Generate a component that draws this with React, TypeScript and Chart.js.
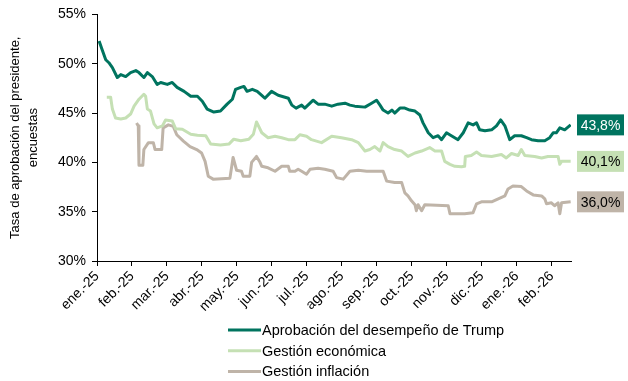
import React, { useEffect, useRef } from 'react';
import { Chart, registerables } from 'chart.js';

Chart.register(...registerables);

// Month tick labels (x position = months since first tick)
const monthLabels = ['ene.-25', 'feb.-25', 'mar.-25', 'abr.-25', 'may.-25', 'jun.-25', 'jul.-25', 'ago.-25', 'sep.-25', 'oct.-25', 'nov.-25', 'dic.-25', 'ene.-26', 'feb.-26'];
const xAxisMax = 13.55;

const seriesLabels = ['Aprobación del desempeño de Trump', 'Gestión económica', 'Gestión inflación'];
const seriesColors = ['#00745F', '#C5E0B4', '#BFB4A8'];
const endLabelTextColors = ['#FFFFFF', '#000000', '#000000'];

// Aprobación del desempeño de Trump
const approvalX = [0.06, 0.15, 0.25, 0.34, 0.44, 0.58, 0.68, 0.82, 0.96, 1.11, 1.2, 1.34, 1.44, 1.58, 1.72, 1.82, 2.01, 2.15, 2.29, 2.49, 2.68, 2.87, 3.01, 3.15, 3.34, 3.53, 3.72, 3.87, 3.96, 4.11, 4.2, 4.29, 4.44, 4.58, 4.71, 4.8, 4.99, 5.18, 5.47, 5.57, 5.69, 5.85, 5.94, 6.09, 6.18, 6.32, 6.51, 6.71, 6.89, 7.09, 7.23, 7.37, 7.66, 7.85, 7.99, 8.09, 8.18, 8.32, 8.43, 8.51, 8.66, 8.8, 8.94, 9.09, 9.23, 9.32, 9.47, 9.61, 9.75, 9.85, 9.99, 10.13, 10.32, 10.47, 10.61, 10.75, 10.85, 10.94, 11.09, 11.28, 11.42, 11.54, 11.66, 11.8, 11.94, 12.13, 12.28, 12.42, 12.61, 12.8, 12.94, 13.04, 13.13, 13.23, 13.37, 13.54];
const approvalY = [52.3, 51.4, 50.4, 50.1, 49.6, 48.6, 48.9, 48.7, 49.1, 49.3, 49.1, 48.6, 49.1, 48.7, 47.9, 48.1, 47.9, 48.1, 47.6, 47.2, 46.7, 46.7, 46.2, 45.4, 45.1, 45.2, 45.9, 46.4, 47.4, 47.6, 47.7, 47.2, 47.4, 47.2, 46.8, 46.5, 47.2, 46.8, 46.5, 45.8, 45.5, 45.8, 45.5, 46.0, 46.3, 45.9, 45.9, 45.7, 45.9, 46.0, 45.8, 45.7, 45.6, 46.0, 46.3, 45.8, 45.3, 45.0, 45.3, 45.0, 45.5, 45.5, 45.3, 45.2, 44.8, 44.0, 43.0, 42.5, 42.7, 42.3, 43.0, 42.7, 42.3, 43.0, 44.0, 43.8, 44.0, 43.3, 43.2, 43.3, 43.7, 44.3, 43.7, 42.3, 42.7, 42.7, 42.5, 42.3, 42.2, 42.2, 42.5, 43.0, 43.0, 43.5, 43.3, 43.8];

// Gestión económica
const economyX = [0.28, 0.39, 0.44, 0.53, 0.68, 0.82, 0.96, 1.06, 1.2, 1.34, 1.39, 1.44, 1.53, 1.63, 1.72, 1.87, 1.96, 2.15, 2.25, 2.44, 2.68, 2.87, 3.11, 3.25, 3.53, 3.77, 3.91, 4.11, 4.34, 4.47, 4.56, 4.71, 4.89, 5.09, 5.28, 5.47, 5.66, 5.8, 5.99, 6.13, 6.42, 6.71, 6.99, 7.28, 7.47, 7.66, 7.8, 7.94, 8.09, 8.18, 8.32, 8.51, 8.71, 8.89, 9.09, 9.28, 9.51, 9.66, 9.85, 9.94, 10.09, 10.23, 10.42, 10.51, 10.53, 10.7, 10.85, 10.99, 11.28, 11.56, 11.7, 11.85, 12.04, 12.13, 12.23, 12.51, 12.71, 12.89, 13.18, 13.23, 13.28, 13.54];
const economyY = [46.6, 46.6, 45.4, 44.5, 44.4, 44.5, 44.9, 45.7, 46.4, 46.9, 46.7, 45.4, 45.2, 43.9, 43.5, 43.7, 44.3, 44.2, 43.4, 43.35, 42.85, 42.75, 42.7, 41.85, 41.75, 41.85, 42.35, 42.2, 42.35, 42.85, 44.1, 43.0, 42.5, 42.65, 42.5, 42.3, 42.3, 42.8, 42.65, 42.3, 42.0, 42.65, 42.5, 42.3, 42.0, 41.15, 41.3, 41.6, 41.15, 42.0, 41.6, 41.3, 41.15, 40.6, 40.95, 41.15, 41.5, 41.15, 41.15, 40.1, 39.8, 39.6, 39.55, 39.6, 40.6, 40.7, 41.05, 40.7, 40.6, 40.8, 40.45, 40.9, 40.7, 41.3, 40.7, 40.6, 40.45, 40.6, 40.6, 39.8, 40.1, 40.1];

// Gestión inflación
const inflationX = [1.13, 1.18, 1.2, 1.31, 1.34, 1.47, 1.61, 1.66, 1.85, 1.89, 2.04, 2.18, 2.28, 2.47, 2.66, 2.85, 2.99, 3.09, 3.18, 3.32, 3.8, 3.89, 3.99, 4.13, 4.18, 4.37, 4.42, 4.56, 4.66, 4.71, 4.89, 5.09, 5.28, 5.47, 5.51, 5.66, 5.75, 5.85, 5.99, 6.09, 6.32, 6.51, 6.75, 6.85, 7.04, 7.23, 7.47, 7.71, 8.18, 8.28, 8.51, 8.71, 8.8, 8.89, 8.99, 9.09, 9.13, 9.18, 9.28, 9.37, 10.04, 10.09, 10.51, 10.75, 10.85, 10.99, 11.28, 11.47, 11.66, 11.75, 11.89, 12.13, 12.28, 12.47, 12.71, 12.8, 12.85, 12.99, 13.08, 13.18, 13.23, 13.28, 13.54];
const inflationY = [44.0, 43.7, 39.7, 39.7, 41.3, 42.0, 42.0, 41.3, 41.3, 43.5, 43.8, 43.65, 42.8, 42.15, 41.6, 41.3, 40.95, 40.1, 38.6, 38.3, 38.4, 40.5, 39.2, 39.1, 38.6, 38.6, 40.0, 40.6, 40.0, 39.6, 39.45, 39.1, 39.6, 39.6, 39.1, 39.1, 39.3, 39.1, 38.8, 39.3, 39.4, 39.3, 39.1, 38.45, 38.3, 39.1, 39.2, 39.1, 39.1, 38.1, 37.95, 37.95, 36.9, 36.6, 36.1, 35.7, 35.1, 35.7, 35.1, 35.7, 35.6, 34.8, 34.8, 34.9, 35.8, 36.0, 36.0, 36.3, 36.6, 37.3, 37.6, 37.55, 37.1, 36.7, 36.6, 36.3, 35.8, 35.9, 35.6, 35.9, 34.8, 35.9, 36.0];

const yTicks = [30, 35, 40, 45, 50, 55];
const yTitle = ['Tasa de aprobación del presidente,', 'encuestas'];

const FONT = '"Liberation Sans", Arial, sans-serif';

const toPoints = (xs: number[], ys: number[]) => xs.map((x, i) => ({ x, y: ys[i] }));

const overlayPlugin = {
  id: 'overlay',
  afterDraw(chart: any) {
    const ctx = chart.ctx;
    const yScale = chart.scales.y;
    const area = chart.chartArea;
    ctx.save();
    chart.data.datasets.forEach((ds: any, i: number) => {
      const last = ds.data[ds.data.length - 1].y;
      const py = yScale.getPixelForValue(last);
      const text = last.toFixed(1).replace('.', ',') + '%';
      const bx = area.right + 6;
      const bw = 47;
      const bh = 21;
      ctx.fillStyle = ds.borderColor;
      ctx.fillRect(bx, py - bh / 2, bw, bh);
      ctx.fillStyle = endLabelTextColors[i];
      ctx.font = '14px ' + FONT;
      ctx.textAlign = 'center';
      ctx.textBaseline = 'middle';
      ctx.fillText(text, bx + bw / 2, py + 1);

      // vertical legend below the axis
      const ly = 330 + i * 20.7;
      ctx.strokeStyle = ds.borderColor;
      ctx.lineWidth = 3;
      ctx.beginPath();
      ctx.moveTo(228, ly);
      ctx.lineTo(261, ly);
      ctx.stroke();
      ctx.fillStyle = '#000';
      ctx.textAlign = 'left';
      ctx.font = '14.5px ' + FONT;
      ctx.fillText(ds.label, 262, ly + 1);
    });
    ctx.restore();
  },
};

export default function App() {
  const canvasRef = useRef<HTMLCanvasElement | null>(null);

  useEffect(() => {
    document.body.style.margin = '0';
    const canvas = canvasRef.current;
    if (!canvas) return;
    const series = [toPoints(approvalX, approvalY), toPoints(economyX, economyY), toPoints(inflationX, inflationY)];
    const chart = new Chart(canvas, {
      type: 'line',
      data: {
        datasets: series.map((data, i) => ({
          label: seriesLabels[i],
          data,
          borderColor: seriesColors[i],
          backgroundColor: seriesColors[i],
          borderWidth: 3,
          pointRadius: 0,
          tension: 0,
          fill: false,
          borderJoinStyle: 'round' as const,
        })),
      },
      options: {
        animation: false,
        responsive: false,
        maintainAspectRatio: false,
        layout: { padding: { top: 12, right: 57, bottom: 0, left: 0 } },
        plugins: { legend: { display: false }, tooltip: { enabled: false } },
        scales: {
          x: {
            type: 'linear',
            min: 0,
            max: xAxisMax,
            afterBuildTicks: (scale: any) => {
              scale.ticks = monthLabels.map((_, i) => ({ value: i }));
            },
            afterFit: (scale: any) => {
              scale.height = 120;
            },
            ticks: {
              autoSkip: false,
              maxRotation: 45,
              minRotation: 45,
              padding: 2,
              color: '#000',
              font: { family: FONT, size: 14 },
              callback: (v: any) => monthLabels[Math.round(v)] ?? '',
            },
            grid: { display: true, drawOnChartArea: false, drawTicks: true, tickLength: 5, color: '#000', lineWidth: 1 },
            border: { display: true, color: '#000', width: 1 },
          },
          y: {
            min: 30,
            max: 55,
            afterBuildTicks: (scale: any) => {
              scale.ticks = yTicks.map((v) => ({ value: v }));
            },
            afterFit: (scale: any) => {
              scale.width = 97;
            },
            ticks: {
              padding: 6,
              color: '#000',
              font: { family: FONT, size: 14 },
              callback: (v: any) => v + '%',
            },
            title: {
              display: true,
              text: yTitle,
              color: '#000',
              font: { family: FONT, size: 13, lineHeight: 1.4 },
              padding: { top: 6, bottom: 0 },
            },
            grid: { display: true, drawOnChartArea: false, drawTicks: true, tickLength: 5, color: '#000', lineWidth: 1 },
            border: { display: true, color: '#000', width: 1 },
          },
        },
      },
      plugins: [overlayPlugin],
    });
    return () => chart.destroy();
  }, []);

  return (
    <div style={{ width: 628, height: 381, position: 'relative' }}>
      <canvas ref={canvasRef} width={628} height={381} style={{ width: 628, height: 381, display: 'block' }} />
    </div>
  );
}
